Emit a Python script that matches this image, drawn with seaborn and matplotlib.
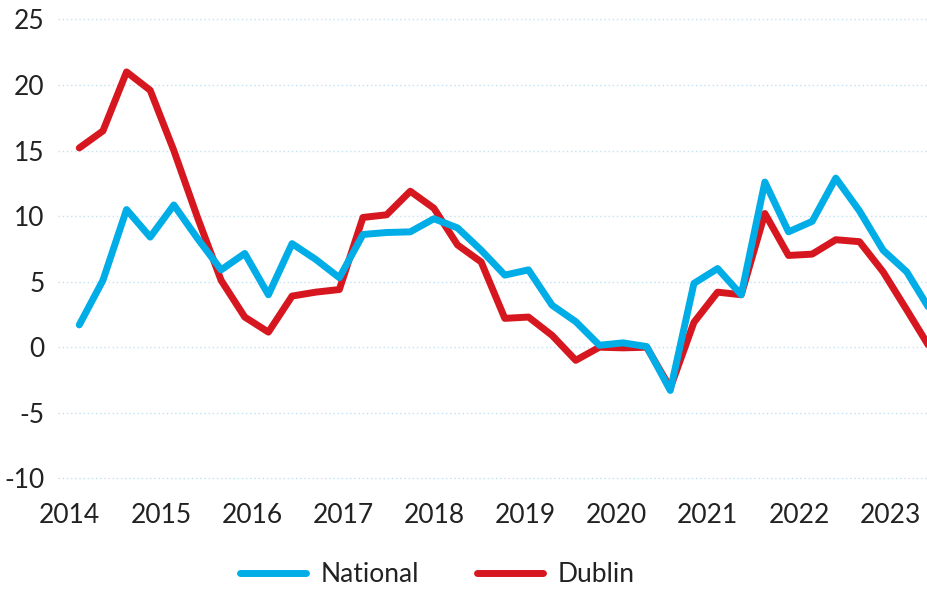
import matplotlib
matplotlib.use("Agg")  # headless
import matplotlib.pyplot as plt
import seaborn as sns
import numpy as np
import pandas as pd

# quarterly annual % change, 2014 Q1 onwards
national = [1.7, 5.1, 10.5, 8.4, 10.85, 8.3, 5.9, 7.15, 4.0, 7.9,
            6.7, 5.3, 8.6, 8.75, 8.8, 9.8, 9.1, 7.4, 5.5, 5.9,
            3.2, 1.95, 0.15, 0.33, 0.05, -3.3, 4.87, 6.0, 4.0, 12.6,
            8.8, 9.6, 12.9, 10.4, 7.4, 5.75, 2.8]
dublin = [15.2, 16.5, 21.0, 19.6, 15.0, 9.9, 5.1, 2.3, 1.15, 3.9,
          4.2, 4.4, 9.9, 10.1, 11.9, 10.6, 7.8, 6.5, 2.2, 2.3,
          0.9, -1.0, 0.0, -0.05, 0.0, -3.1, 1.9, 4.2, 4.0, 10.2,
          7.0, 7.1, 8.2, 8.05, 5.75, 2.85, -0.1]
years = ["2014", "2015", "2016", "2017", "2018", "2019",
         "2020", "2021", "2022", "2023"]
y_ticks = [25, 20, 15, 10, 5, 0, -5, -10]

BLUE = "#00ade6"
RED = "#d7171f"
TEXT = "#222222"

df = pd.DataFrame({"q": np.arange(len(national)),
                   "National": national, "Dublin": dublin})

sns.set_theme(style="white")
plt.rcParams["font.family"] = ["Lato", "DejaVu Sans"]

fig = plt.figure(figsize=(9.28, 5.9), dpi=100)
ax = fig.add_axes([58 / 928, 0.1849, 870 / 928, 0.7865])

# red first so the blue sits on top where they overlap
sns.lineplot(data=df, x="q", y="Dublin", ax=ax, color=RED, linewidth=5,
             solid_capstyle="round", label="Dublin", legend=False)
sns.lineplot(data=df, x="q", y="National", ax=ax, color=BLUE, linewidth=5,
             solid_capstyle="round", label="National", legend=False)

ax.set_xlim(-0.9, 35.9)
ax.set_ylim(-10.2, 25.2)
ax.set_yticks(y_ticks)
ax.set_yticklabels([str(t) for t in y_ticks])
ax.set_xticks(np.linspace(-0.4, 34.3, len(years)))
ax.set_xticklabels(years)
ax.set_xlabel("")
ax.set_ylabel("")

ax.grid(axis="y", color="#c3e2f3", linestyle=(0, (1, 2)), linewidth=1)
ax.grid(axis="x", visible=False)
ax.set_axisbelow(True)
for s in ax.spines.values():
    s.set_visible(False)

ax.tick_params(axis="y", length=0, pad=9.5, labelsize=19, labelcolor=TEXT)
ax.tick_params(axis="x", length=0, pad=16, labelsize=19, labelcolor=TEXT)

h, l = ax.get_legend_handles_labels()
order = [l.index("National"), l.index("Dublin")]
fig.legend([h[i] for i in order], [l[i] for i in order],
           loc="center", bbox_to_anchor=(437 / 928, 1 - 575 / 590),
           ncol=2, frameon=False, fontsize=19, handlelength=2.5,
           handletextpad=0.55, columnspacing=2.2, labelcolor=TEXT,
           borderpad=0.1)

fig.savefig("out.png", dpi=100)
plt.close(fig)
